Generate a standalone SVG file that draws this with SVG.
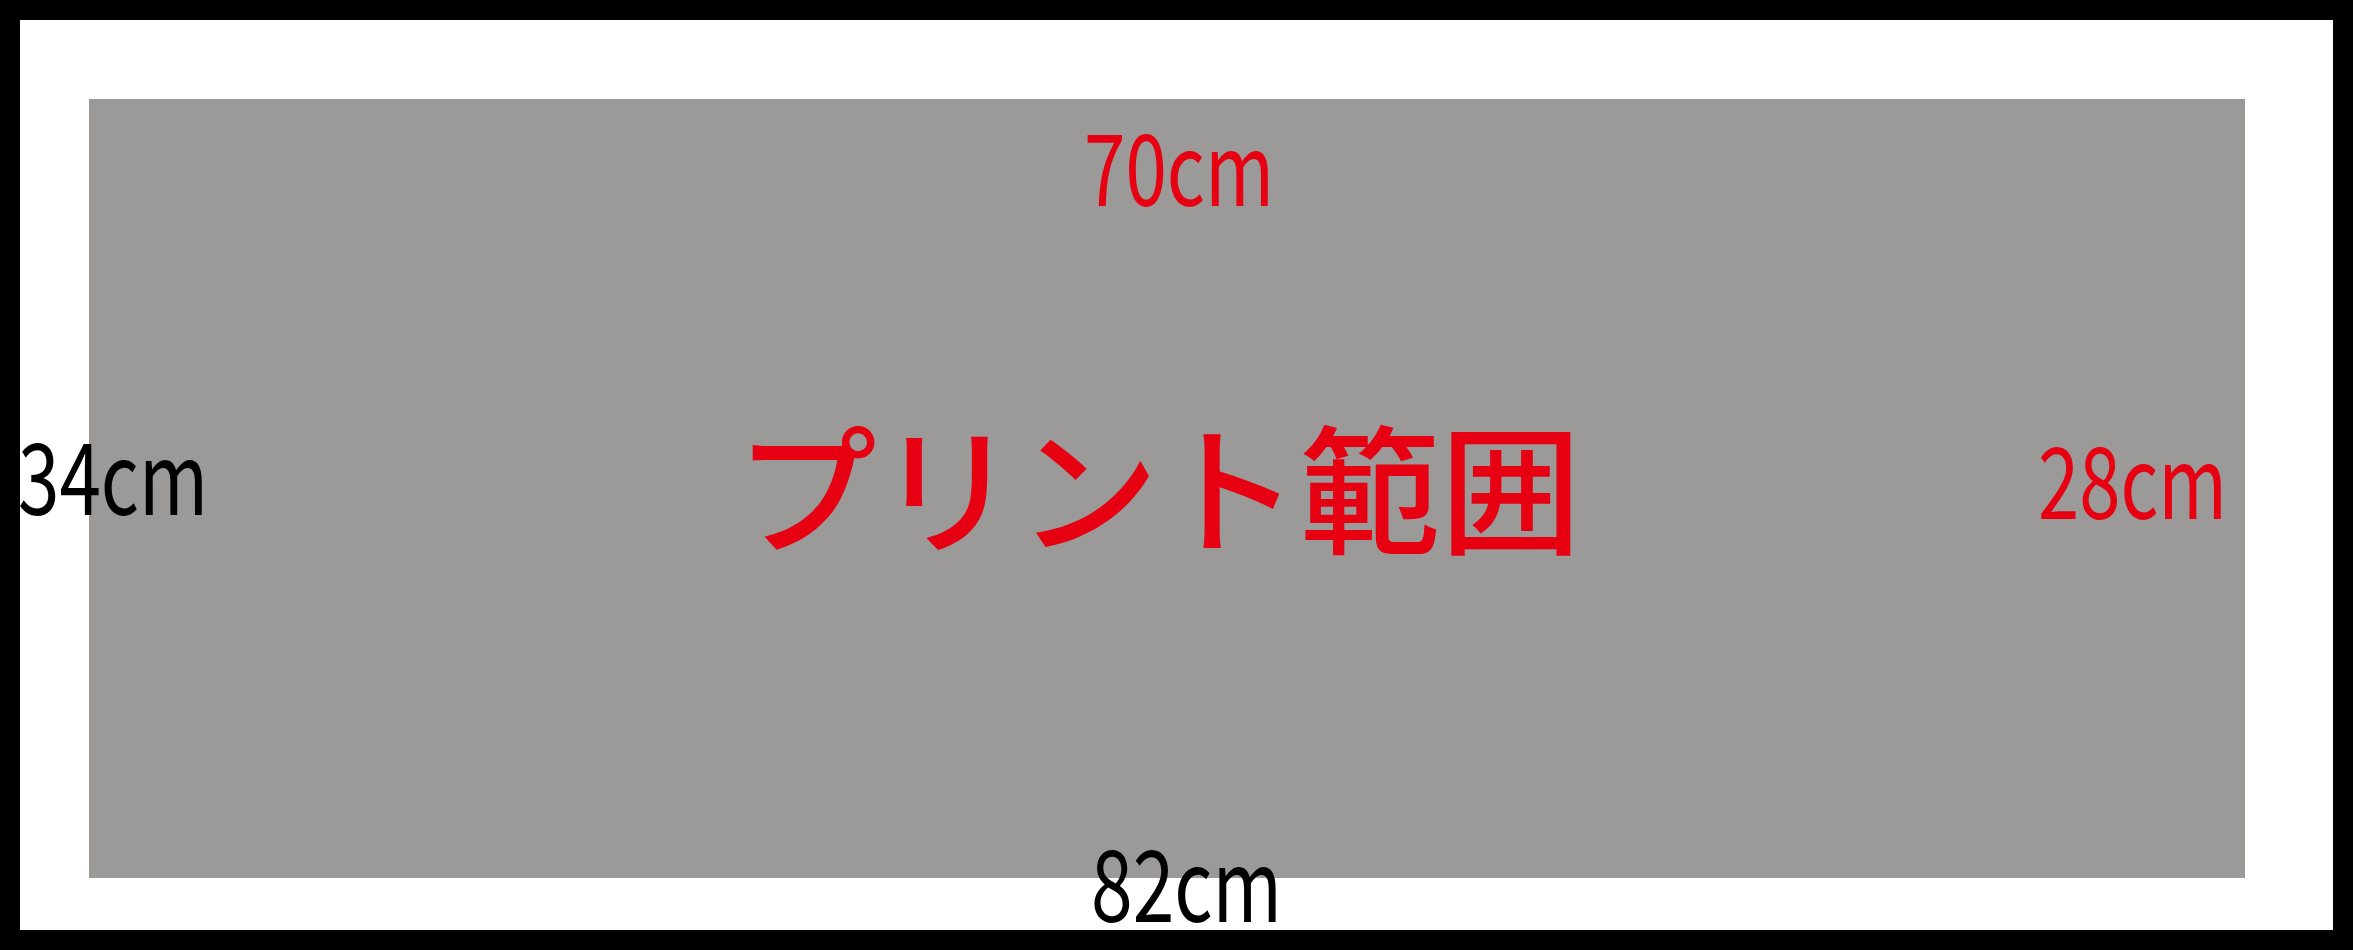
<svg xmlns="http://www.w3.org/2000/svg" width="2353" height="950" viewBox="0 0 2353 950">
  <style>
    .lbl { font-family: "Noto Sans CJK JP", "Liberation Sans", sans-serif; font-size: 99px; }
    .red { fill: #e60012; }
    .blk { fill: #000000; }
    .main { font-family: "Noto Sans CJK JP", sans-serif; font-size: 139px; font-weight: 500; fill: #e60012; }
  </style>
  <g id="frame">
    <rect x="10" y="10" width="2333" height="930" fill="#ffffff" stroke="#000000" stroke-width="20"/>
  </g>
  <g id="print-area">
    <rect x="89" y="99" width="2156" height="779" fill="#9b9a98"/>
    <text class="main" x="736" y="543" textLength="845" lengthAdjust="spacingAndGlyphs">プリント範囲</text>
  </g>
  <g id="connectors"></g>
  <g id="label-top">
    <text class="lbl red" x="1084" y="206" textLength="190" lengthAdjust="spacingAndGlyphs">70cm</text>
  </g>
  <g id="label-left">
    <text class="lbl blk" x="18" y="515" textLength="190" lengthAdjust="spacingAndGlyphs">34cm</text>
  </g>
  <g id="label-right">
    <text class="lbl red" x="2038" y="519" textLength="189" lengthAdjust="spacingAndGlyphs">28cm</text>
  </g>
  <g id="label-bottom">
    <text class="lbl blk" x="1091" y="922" textLength="191" lengthAdjust="spacingAndGlyphs">82cm</text>
  </g>
</svg>
